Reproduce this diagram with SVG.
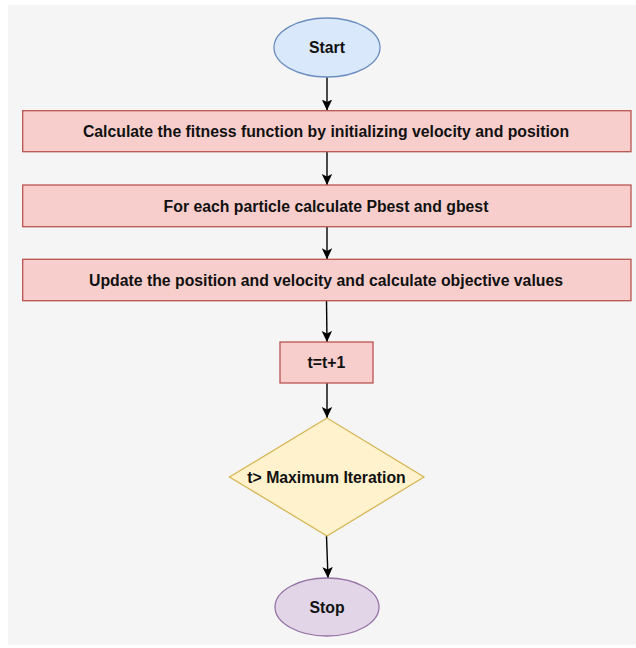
<svg xmlns="http://www.w3.org/2000/svg" width="636" height="648" viewBox="0 0 636 648">
  <defs>
    <marker id="arrow" markerUnits="userSpaceOnUse" markerWidth="12" markerHeight="12" viewBox="0 0 12 12" refX="11" refY="6" orient="auto">
      <path d="M0,0.8 L11,6 L0,11.2 L2.6,6 Z" fill="#000"/>
    </marker>
  </defs>
  <style>
    .lbl { font-family: "Liberation Sans", Arial, sans-serif; font-weight: bold; font-size: 15.8px; fill: #111; text-anchor: middle; }
    .proc { fill: #f8cecc; stroke: #b85450; stroke-width: 1.3; }
    .term { fill: #dae8fc; stroke: #6c8ebf; stroke-width: 1.3; }
    .stop { fill: #e1d5e7; stroke: #9673a6; stroke-width: 1.3; }
    .dec { fill: #fff2cc; stroke: #d6b656; stroke-width: 1.3; }
    .edge { fill: none; stroke: #000; stroke-width: 1.4; marker-end: url(#arrow); }
  </style>
  <rect x="0" y="0" width="636" height="648" fill="#ffffff"/>
  <rect x="8" y="5" width="628" height="640" fill="#f5f5f5"/>

  <g id="connectors">
    <path class="edge" d="M327,77 L327,110.5"/>
    <path class="edge" d="M327,151.7 L327,185"/>
    <path class="edge" d="M327,226.7 L327,259.3"/>
    <path class="edge" d="M326.5,300.7 L327,342"/>
    <path class="edge" d="M327,383 L327,418"/>
    <path class="edge" d="M326.5,536 L328,578"/>
  </g>

  <g id="start">
    <ellipse class="term" cx="327" cy="47.5" rx="53" ry="29.5"/>
    <text class="lbl" x="327" y="53.2">Start</text>
  </g>
  <g id="init">
    <rect class="proc" x="22.7" y="110.7" width="608.3" height="41"/>
    <text class="lbl" x="326" y="136.8">Calculate the fitness function by initializing velocity and position</text>
  </g>
  <g id="pbest">
    <rect class="proc" x="22.7" y="185" width="608.3" height="41.7"/>
    <text class="lbl" x="326" y="211.5">For each particle calculate Pbest and gbest</text>
  </g>
  <g id="update">
    <rect class="proc" x="22.7" y="259.3" width="608.3" height="41.4"/>
    <text class="lbl" x="326" y="285.6">Update the position and velocity and calculate objective values</text>
  </g>
  <g id="increment">
    <rect class="proc" x="280" y="342" width="93" height="41"/>
    <text class="lbl" x="326.5" y="368">t=t+1</text>
  </g>
  <g id="decision">
    <polygon class="dec" points="327,418 424,477 327,536 229.5,477"/>
    <text class="lbl" x="326.5" y="482.6">t&gt; Maximum Iteration</text>
  </g>
  <g id="stop">
    <ellipse class="stop" cx="327" cy="607" rx="52" ry="29"/>
    <text class="lbl" x="327" y="612.6">Stop</text>
  </g>
</svg>
